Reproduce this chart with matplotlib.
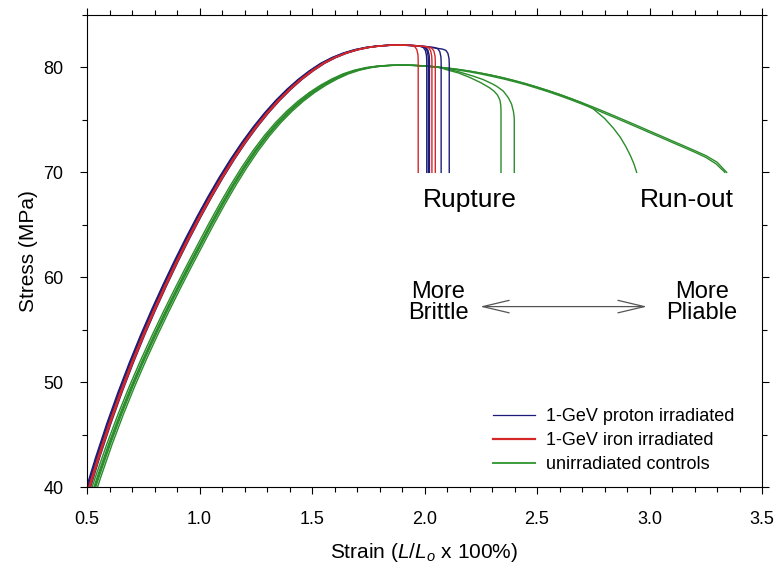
import numpy as np
import matplotlib
matplotlib.use("Agg")
import matplotlib.pyplot as plt
from matplotlib.ticker import MultipleLocator, FormatStrFormatter
from matplotlib.lines import Line2D

plt.rcParams['font.family'] = ['Liberation Sans', 'DejaVu Sans']
plt.rcParams['mathtext.fontset'] = 'custom'
plt.rcParams['mathtext.it'] = 'Liberation Sans:italic'
plt.rcParams['mathtext.rm'] = 'Liberation Sans'

# Strain in (L/Lo x 100%), stress in MPa
# Loading curve common to the irradiated specimens
irr_strain = [0.51, 0.55, 0.60, 0.65, 0.70, 0.75, 0.80, 0.85, 0.90, 0.95,
              1.00, 1.05, 1.10, 1.15, 1.20, 1.25, 1.30, 1.35, 1.40, 1.45,
              1.50, 1.55, 1.60, 1.65, 1.70, 1.75, 1.80, 1.85, 1.90, 1.95,
              2.00, 2.05, 2.10, 2.15]
irr_stress = [40.0, 42.8, 46.05, 49.05, 51.85, 54.48, 56.95, 59.3, 61.55, 63.7,
              65.75, 67.7, 69.54, 71.26, 72.85, 74.31, 75.64, 76.84, 77.91, 78.86,
              79.68, 80.39, 80.94, 81.37, 81.69, 81.91, 82.05, 82.12, 82.13, 82.09,
              82.0, 81.87, 81.71, 81.52]

# Individual specimens: strain offset on loading, rupture strain
proton_shift = [-0.012, -0.004, 0.002, 0.006, -0.008]
proton_rupture = [2.010, 2.017, 2.022, 2.074, 2.110]
iron_shift = [0.0, 0.004, -0.002]
iron_rupture = [1.972, 2.033, 2.048]
rupture_floor = 70.0

# Loading curve common to the unirradiated controls
ctl_strain = [0.535, 0.55, 0.60, 0.65, 0.70, 0.75, 0.80, 0.85, 0.90, 0.95,
              1.00, 1.05, 1.10, 1.15, 1.20, 1.25, 1.30, 1.35, 1.40, 1.45,
              1.50, 1.55, 1.60, 1.65, 1.70, 1.75, 1.80, 1.85, 1.90, 1.95,
              2.00, 2.05]
ctl_stress = [40.0, 40.99, 44.09, 46.94, 49.59, 52.07, 54.41, 56.65, 58.81, 60.91,
              62.95, 64.98, 66.93, 68.78, 70.5, 72.08, 73.5, 74.75, 75.84, 76.79,
              77.61, 78.31, 78.9, 79.39, 79.74, 79.98, 80.13, 80.2, 80.22, 80.2,
              80.14, 80.05]
ctl_shift = [-0.012, -0.004, 0.004, 0.012, 0.0]

# Control tails after the stress maximum
runout_a_strain = [2.10, 2.15, 2.20, 2.25, 2.30, 2.35, 2.40, 2.45, 2.50, 2.55,
                   2.60, 2.65, 2.70, 2.75, 2.80, 2.85, 2.90, 2.95, 3.00, 3.05,
                   3.10, 3.15, 3.20, 3.25, 3.30, 3.343]
runout_a_stress = [79.95, 79.81, 79.65, 79.46, 79.25, 79.01, 78.74, 78.45, 78.13, 77.79,
                   77.43, 77.04, 76.64, 76.22, 75.78, 75.33, 74.87, 74.41, 73.94, 73.48,
                   73.01, 72.55, 72.08, 71.6, 70.97, 70.0]
runout_b_strain = [2.10, 2.15, 2.20, 2.25, 2.30, 2.35, 2.40, 2.45, 2.50, 2.55,
                   2.60, 2.65, 2.70, 2.75, 2.80, 2.85, 2.90, 2.95, 3.00, 3.05,
                   3.10, 3.15, 3.20, 3.25, 3.295, 3.335]
runout_b_stress = [79.9, 79.75, 79.58, 79.38, 79.15, 78.91, 78.64, 78.35, 78.02, 77.68,
                   77.31, 76.92, 76.51, 76.09, 75.63, 75.18, 74.72, 74.26, 73.79, 73.33,
                   72.86, 72.4, 71.93, 71.43, 70.82, 70.0]
mid_strain = [2.10, 2.15, 2.20, 2.25, 2.30, 2.35, 2.40, 2.45, 2.50, 2.55,
              2.60, 2.65, 2.70, 2.75, 2.80, 2.84, 2.87, 2.895, 2.915, 2.93, 2.943]
mid_stress = [79.95, 79.81, 79.65, 79.46, 79.25, 79.01, 78.74, 78.45, 78.13, 77.79,
              77.43, 77.04, 76.62, 76.05, 75.15, 74.2, 73.35, 72.45, 71.6, 70.85, 70.0]
rup1_strain = [2.10, 2.15, 2.20, 2.25, 2.29, 2.31, 2.325, 2.335, 2.339, 2.34, 2.34]
rup1_stress = [79.77, 79.48, 79.06, 78.55, 78.05, 77.72, 77.35, 76.9, 76.4, 75.9, 70.0]
rup2_strain = [2.10, 2.15, 2.217, 2.26, 2.30, 2.321, 2.35, 2.373, 2.387, 2.395, 2.399, 2.399]
rup2_stress = [79.85, 79.6, 79.17, 78.85, 78.45, 78.2, 77.75, 77.1, 76.5, 75.83, 75.2, 70.0]
ctl_tails = [(runout_a_strain, runout_a_stress), (runout_b_strain, runout_b_stress),
             (mid_strain, mid_stress), (rup1_strain, rup1_stress),
             (rup2_strain, rup2_stress)]

legend_labels = ['1-GeV proton irradiated', '1-GeV iron irradiated', 'unirradiated controls']

c_blue = '#1c1c78'
c_red = '#d42828'
c_green = '#2a8c2a'


def ruptured_curve(strain, stress, shift, rupture):
    """Loading curve cut at the rupture strain, with a short rounded drop to the floor."""
    x = np.asarray(strain) + shift
    y = np.asarray(stress)
    cut = rupture - 0.03
    keep = x <= cut
    s0 = np.interp(cut, x, y)
    xs = list(x[keep]) + [cut, rupture - 0.015, rupture - 0.006, rupture - 0.001, rupture, rupture]
    ys = list(y[keep]) + [s0, s0 - 0.12, s0 - 0.4, s0 - 0.9, s0 - 1.4, rupture_floor]
    return xs, ys


fig = plt.figure(figsize=(7.75, 5.68), dpi=100)
ax = fig.add_axes([87 / 775, 1 - 487 / 568, 675 / 775, 472 / 568])

for sh, (tx, ty) in zip(ctl_shift, ctl_tails):
    x = list(np.asarray(ctl_strain) + sh) + list(tx)
    y = list(ctl_stress) + list(ty)
    ax.plot(x, y, color=c_green, lw=1.0)

for sh, r in zip(proton_shift, proton_rupture):
    x, y = ruptured_curve(irr_strain, irr_stress, sh, r)
    ax.plot(x, y, color=c_blue, lw=1.0)

for sh, r in zip(iron_shift, iron_rupture):
    x, y = ruptured_curve(irr_strain, irr_stress, sh, r)
    ax.plot(x, y, color=c_red, lw=1.0)

ax.set_xlim(0.5, 3.5)
ax.set_ylim(40, 85)
ax.xaxis.set_major_locator(MultipleLocator(0.5))
ax.xaxis.set_minor_locator(MultipleLocator(0.1))
ax.yaxis.set_major_locator(MultipleLocator(10))
ax.yaxis.set_minor_locator(MultipleLocator(5))
ax.xaxis.set_major_formatter(FormatStrFormatter('%.1f'))
ax.tick_params(which='both', direction='out', top=True, right=True,
               labelsize=13, width=0.8, colors='black')
ax.tick_params(which='major', length=5)
ax.tick_params(which='minor', length=3.5)
ax.tick_params(axis='x', pad=12)
ax.tick_params(axis='y', pad=12)
for sp in ax.spines.values():
    sp.set_linewidth(0.8)

ax.set_xlabel(r'Strain ($\mathit{L/L_o}$ x 100%)', fontsize=15, labelpad=10)
ax.set_ylabel('Stress (MPa)', fontsize=15, labelpad=4)

ax.text(2.202, 67.4, 'Rupture', fontsize=19, ha='center', va='center')
ax.text(3.167, 67.4, 'Run-out', fontsize=19, ha='center', va='center')
ax.text(2.06, 57.6, 'More\nBrittle', fontsize=17, ha='center', va='center', linespacing=0.95)
ax.text(3.233, 57.6, 'More\nPliable', fontsize=17, ha='center', va='center', linespacing=0.95)
ax.annotate('', xy=(2.989, 57.2), xytext=(2.247, 57.2),
            arrowprops=dict(arrowstyle='<->,head_length=1.9,head_width=0.45',
                            color='#555555', lw=0.9, shrinkA=0, shrinkB=0))

handles = [Line2D([], [], color=c_blue, lw=0.9),
           Line2D([], [], color=c_red, lw=1.6),
           Line2D([], [], color='#3c9c3c', lw=1.4)]
ax.legend(handles, legend_labels, loc='upper left', bbox_to_anchor=(0.601, 0.167),
          frameon=False, fontsize=13, handlelength=2.33, handletextpad=0.65,
          labelspacing=0.39, borderpad=0, borderaxespad=0)

fig.savefig('out.png', dpi=100)
